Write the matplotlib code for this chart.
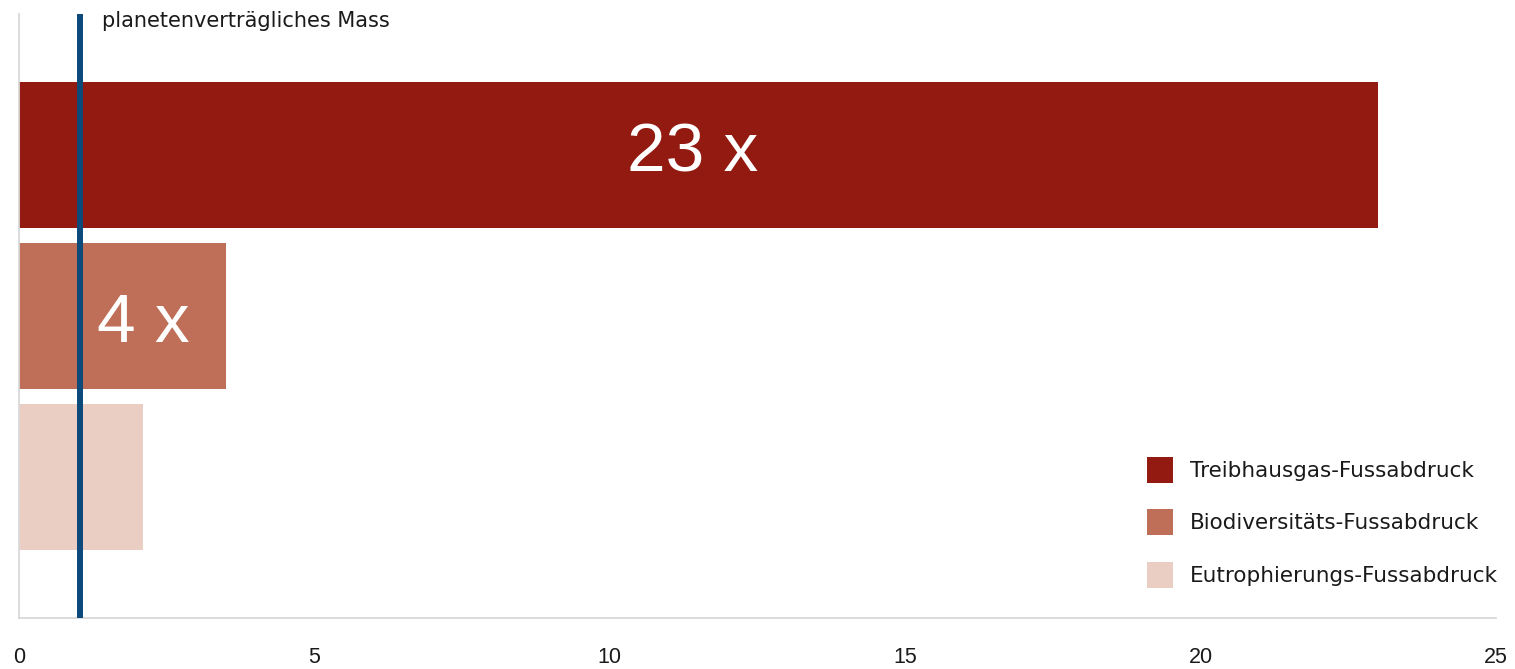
import matplotlib.pyplot as plt
from matplotlib.patches import Patch

# Daten
categories = ["Treibhausgas-Fussabdruck", "Biodiversitäts-Fussabdruck", "Eutrophierungs-Fussabdruck"]
values = [23.0, 3.5, 2.1]
bar_labels = ["23 x", "4 x"]
colors = ["#931a10", "#bf6f58", "#eacdc3"]
limit_value = 1.04
limit_label = "planetenverträgliches Mass"
xticks = [0, 5, 10, 15, 20, 25]

fig = plt.figure(figsize=(15.15, 6.69), dpi=100)
ax = fig.add_axes([19 / 1515, 1 - 618 / 669, (1496 - 19) / 1515, (618 - 14) / 669])

ypos = list(range(len(values)))
ax.barh(ypos, values, height=0.907, color=colors, zorder=1)

ax.set_xlim(0, 25)
ax.set_ylim(2 + 0.879, -0.876)

# planetenverträgliche Grenze
ax.axvline(limit_value, color="#0b4a7a", linewidth=4.3, zorder=3)
ax.text(limit_value + 0.37, -0.835, limit_label, fontsize=15, family="DejaVu Sans",
        color="#1a1a1a", va="center", ha="left")

# Beschriftung in den Balken
ax.text(11.4, ypos[0] + 0.106, bar_labels[0], fontsize=50, family="Liberation Sans",
        color="white", ha="center", va="baseline", zorder=4)
ax.text(2.1, ypos[1] + 0.165, bar_labels[1], fontsize=50, family="Liberation Sans",
        color="white", ha="center", va="baseline", zorder=4)

ax.set_xticks(xticks)
ax.set_xticklabels([str(t) for t in xticks], fontsize=15.5, family="Liberation Sans")
ax.tick_params(axis="x", length=0, pad=21, colors="#1a1a1a")
ax.set_yticks([])

for s in ["top", "right"]:
    ax.spines[s].set_visible(False)
for s in ["left", "bottom"]:
    ax.spines[s].set_color("#d9d9d9")
    ax.spines[s].set_linewidth(1.3)

handles = [Patch(facecolor=c, edgecolor="none") for c in colors]
leg = ax.legend(handles, categories, loc="upper left",
                bbox_to_anchor=(1147 / 1515, 1 - 457 / 669), bbox_transform=fig.transFigure,
                frameon=False, prop={"family": "DejaVu Sans", "size": 15.5},
                handlelength=1.2, handleheight=1.45, handletextpad=0.8,
                labelspacing=1.25, borderpad=0, borderaxespad=0)
for t in leg.get_texts():
    t.set_color("#1a1a1a")

fig.savefig("out.png", dpi=100)
